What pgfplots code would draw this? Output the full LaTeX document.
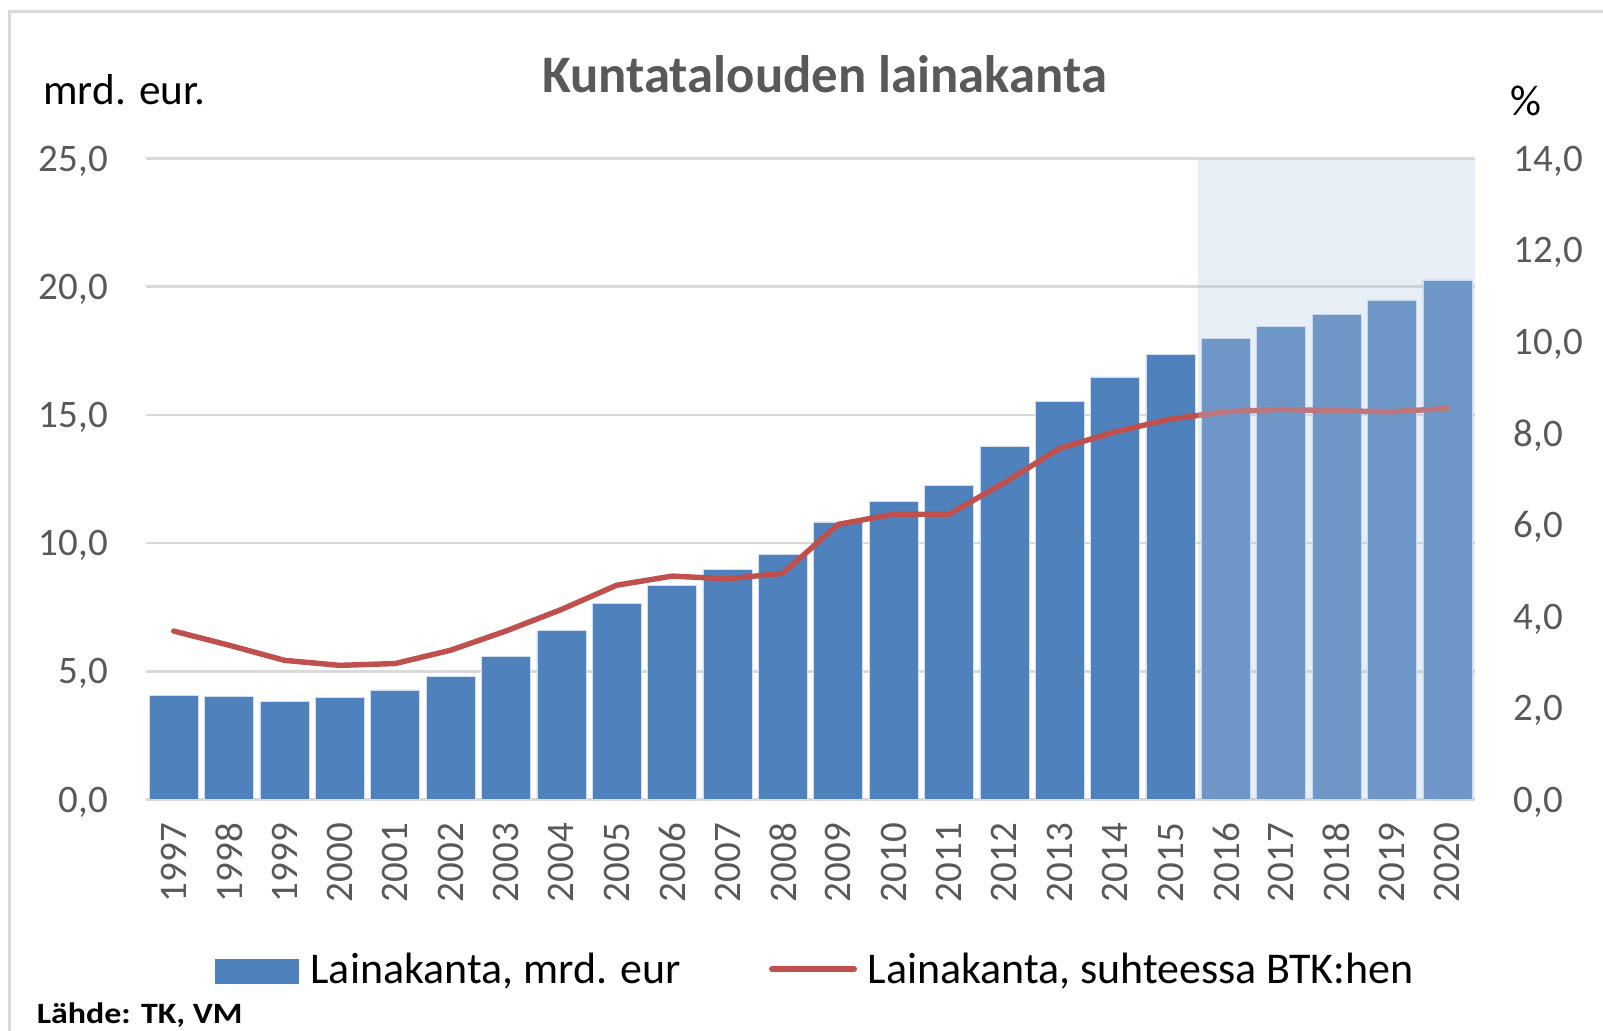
\documentclass[border=0pt]{standalone}
\usepackage{pgfplots}
\pgfplotsset{compat=1.18}
\usepackage{fontspec}
\setmainfont{Carlito}
\definecolor{barblue}{RGB}{79,129,189}
\definecolor{linered}{RGB}{192,80,77}
\definecolor{gridgray}{RGB}{217,217,217}
\definecolor{fcastcol}{RGB}{181,201,226}
\definecolor{txtgray}{RGB}{89,89,89}
\pgfplotstableread{
x val
0 4.07
1 4.03
2 3.83
3 3.99
4 4.28
5 4.80
6 5.57
7 6.59
8 7.66
9 8.36
10 8.97
11 9.57
12 10.83
13 11.62
14 12.25
15 13.77
16 15.52
17 16.48
18 17.36
19 17.98
20 18.46
21 18.93
22 19.49
23 20.27
}\bars
\pgfplotstableread{
x val
0 3.68
1 3.37
2 3.04
3 2.93
4 2.97
5 3.26
6 3.68
7 4.15
8 4.68
9 4.88
10 4.82
11 4.94
12 6.01
13 6.23
14 6.23
15 6.92
16 7.67
17 8.03
18 8.31
19 8.47
20 8.52
21 8.49
22 8.47
23 8.54
}\ratio
\begin{document}
\begin{tikzpicture}
\useasboundingbox (0,0) rectangle (160.3mm,-103mm);
% frame
\draw[gridgray, line width=0.3mm] (0.95mm,-110mm) -- (0.95mm,-1.1mm) -- (170mm,-1.1mm);
\pgfplotsset{
  common/.style={
    scale only axis, width=132.9mm, height=64.1mm,
    at={(14.6mm,-79.95mm)}, anchor=south west,
    xmin=-0.5, xmax=23.5,
    major tick length=0pt,
    /pgf/number format/.cd, fixed, fixed zerofill, precision=1, use comma, assume math mode=true,
    /pgfplots/.cd,
    tick label style={font=\fontsize{11.1}{13}\selectfont, text=txtgray},
  }
}
\begin{axis}[common,
  ymin=0, ymax=25, ytick={0,5,...,25},
  axis x line*=bottom, axis y line*=left,
  y axis line style={draw=none},
  x axis line style={draw=gridgray, line width=0.85pt, -},
  ymajorgrids, grid style={gridgray, line width=0.7pt},
  xtick={0,...,23},
  xticklabels={1997,1998,1999,2000,2001,2002,2003,2004,2005,2006,2007,2008,2009,2010,2011,2012,2013,2014,2015,2016,2017,2018,2019,2020},
  xticklabel style={rotate=90, anchor=east, inner xsep=2.3mm, inner ysep=0pt, text depth=0pt},
  yticklabel style={anchor=east, inner xsep=3.75mm, inner ysep=0pt, text depth=0pt},
  ybar, bar width=0.885, bar shift=0pt,
]
\addplot[fill=barblue, draw=white!75!barblue, line width=0.15pt] table[x=x,y=val]{\bars};
\end{axis}
\begin{axis}[common,
  ymin=0, ymax=14, ytick={0,2,...,14},
  axis x line=none, axis y line*=right,
  y axis line style={draw=none},
  yticklabel style={anchor=west, inner xsep=3.8mm, inner ysep=0pt, text depth=0pt},
]
\addplot[linered, line width=1.55pt, line join=round, line cap=round] table[x=x,y=val]{\ratio};
\fill[fill=fcastcol, fill opacity=0.31] (axis cs:18.5,0) rectangle (axis cs:23.5,14);
\end{axis}
% titles
\node[anchor=base, font=\fontsize{15}{18}\selectfont\bfseries, text=txtgray] at (82.45mm,-9.2mm) {Kuntatalouden lainakanta};
\node[anchor=base west, inner sep=0pt, font=\fontsize{12.3}{14}\selectfont] at (4.27mm,-10.4mm) {mrd. eur.};
\node[anchor=base west, inner sep=0pt, font=\fontsize{12.3}{14}\selectfont] at (151.0mm,-11.5mm) {\%};
% legend
\fill[barblue] (21.47mm,-95.9mm) rectangle (29.85mm,-98.35mm);
\node[anchor=base west, inner sep=0pt, font=\fontsize{12.5}{15}\selectfont] at (30.98mm,-98.3mm) {Lainakanta, mrd. eur};
\draw[linered, line width=1.7pt, line cap=round] (77.2mm,-96.9mm) -- (85.4mm,-96.9mm);
\node[anchor=base west, inner sep=0pt, font=\fontsize{12.5}{15}\selectfont] at (86.69mm,-98.3mm) {Lainakanta, suhteessa BTK:hen};
% source
\node[anchor=base west, inner sep=0pt, font=\fontsize{8.4}{10}\selectfont\bfseries, xscale=1.15] at (3.6mm,-102.3mm) {Lähde: TK, VM};
\end{tikzpicture}
\end{document}
